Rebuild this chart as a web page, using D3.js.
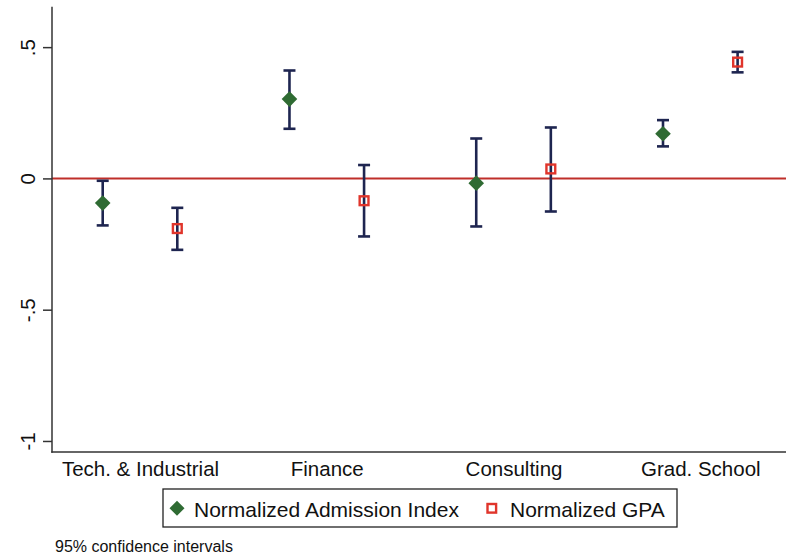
<!DOCTYPE html>
<html>
<head>
<meta charset="utf-8">
<script src="https://cdn.jsdelivr.net/npm/d3@7"></script>
<style>
  html, body { margin: 0; padding: 0; background: #fff; }
  svg { display: block; font-family: "Liberation Sans", Arial, sans-serif; }
</style>
</head>
<body>
<svg id="chart" width="790" height="555"></svg>
<script>
// ---- data ----
const categories = ["Tech. & Industrial", "Finance", "Consulting", "Grad. School"];
const seriesNames = ["Normalized Admission Index", "Normalized GPA"];
const admissionMean = [-0.094, 0.302, -0.018, 0.170];
const admissionLow  = [-0.179, 0.189, -0.183, 0.122];
const admissionHigh = [-0.009, 0.411, 0.152, 0.222];
const gpaMean = [-0.191, -0.085, 0.036, 0.443];
const gpaLow  = [-0.272, -0.221, -0.126, 0.404];
const gpaHigh = [-0.112, 0.051, 0.194, 0.482];
const yTicks = [-1, -0.5, 0, 0.5];
const yTickLabels = ["-1", "-.5", "0", ".5"];
const note = "95% confidence intervals";

// ---- layout ----
const svg = d3.select("#chart");
const plot = { left: 52, right: 786, top: 6.7, bottom: 452 };
const y = d3.scaleLinear().domain([-1.042, 0.654]).range([plot.bottom, plot.top]);
const x = d3.scalePoint().domain(categories).range([140, 700.3]);
const offset = 37.3;

const navy = "#1e2550", green = "#2f6b33", red = "#e0352b", zeroRed = "#bf2f2a", axisCol = "#333";

const rows = [];
categories.forEach((c, i) => {
  rows.push({ cat: c, s: 0, m: admissionMean[i], lo: admissionLow[i], hi: admissionHigh[i] });
  rows.push({ cat: c, s: 1, m: gpaMean[i], lo: gpaLow[i], hi: gpaHigh[i] });
});
const px = d => x(d.cat) + (d.s === 0 ? -offset : offset);

// zero line
svg.append("line")
  .attr("x1", plot.left).attr("x2", plot.right)
  .attr("y1", y(0)).attr("y2", y(0))
  .attr("stroke", zeroRed).attr("stroke-width", 2);

// y axis
const yAxis = d3.axisLeft(y).tickValues(yTicks).tickFormat((d, i) => yTickLabels[i]).tickSize(9);
const gy = svg.append("g").attr("transform", `translate(${plot.left},0)`).call(yAxis);
gy.select(".domain").remove();
gy.selectAll(".tick line").attr("stroke", axisCol).attr("stroke-width", 1.5);
gy.selectAll(".tick text")
  .attr("x", 0).attr("dy", null)
  .attr("transform", "translate(-17,0) rotate(-90)")
  .attr("text-anchor", "middle")
  .attr("font-size", 20.5).attr("fill", "#111");
svg.append("line")
  .attr("x1", plot.left).attr("x2", plot.left)
  .attr("y1", plot.top).attr("y2", plot.bottom + 0.75)
  .attr("stroke", axisCol).attr("stroke-width", 1.5);

// x axis
const xAxis = d3.axisBottom(x).tickSize(0).tickPadding(0);
const gx = svg.append("g").attr("transform", `translate(0,${plot.bottom})`).call(xAxis);
gx.select(".domain").remove();
gx.selectAll(".tick text").attr("y", 24).attr("dy", null)
  .attr("font-size", 20.5).attr("fill", "#111");
svg.append("line")
  .attr("x1", plot.left - 0.75).attr("x2", plot.right)
  .attr("y1", plot.bottom).attr("y2", plot.bottom)
  .attr("stroke", axisCol).attr("stroke-width", 1.5);

// error bars
const bars = svg.append("g").attr("stroke", navy).attr("stroke-width", 2.6).attr("fill", "none");
bars.selectAll("line.v").data(rows).join("line").attr("class", "v")
  .attr("x1", px).attr("x2", px).attr("y1", d => y(d.lo)).attr("y2", d => y(d.hi));
bars.selectAll("line.lo").data(rows).join("line").attr("class", "lo")
  .attr("x1", d => px(d) - 6).attr("x2", d => px(d) + 6).attr("y1", d => y(d.lo)).attr("y2", d => y(d.lo));
bars.selectAll("line.hi").data(rows).join("line").attr("class", "hi")
  .attr("x1", d => px(d) - 6).attr("x2", d => px(d) + 6).attr("y1", d => y(d.hi)).attr("y2", d => y(d.hi));

// markers
const diamond = (cx, cy, r) => `M${cx},${cy - r}L${cx + r},${cy}L${cx},${cy + r}L${cx - r},${cy}Z`;
svg.append("g").selectAll("path").data(rows.filter(d => d.s === 0)).join("path")
  .attr("d", d => diamond(px(d), y(d.m), 7.8)).attr("fill", green);
svg.append("g").selectAll("rect").data(rows.filter(d => d.s === 1)).join("rect")
  .attr("x", d => px(d) - 4.4).attr("y", d => y(d.m) - 4.4)
  .attr("width", 8.8).attr("height", 8.8)
  .attr("fill", "none").attr("stroke", red).attr("stroke-width", 2.4);

// legend
const lg = svg.append("g");
lg.append("rect").attr("x", 163).attr("y", 489).attr("width", 514).attr("height", 38)
  .attr("fill", "#fff").attr("stroke", "#222").attr("stroke-width", 1.3);
lg.append("path").attr("d", diamond(177, 508.3, 7.5)).attr("fill", green);
lg.append("text").attr("x", 194).attr("y", 516.5).attr("font-size", 21).attr("fill", "#111").text(seriesNames[0]);
lg.append("rect").attr("x", 487.5).attr("y", 504).attr("width", 8.6).attr("height", 8.6)
  .attr("fill", "#fff").attr("stroke", red).attr("stroke-width", 2.4);
lg.append("text").attr("x", 510).attr("y", 516.5).attr("font-size", 21).attr("fill", "#111").text(seriesNames[1]);

// note
svg.append("text").attr("x", 55).attr("y", 551.5).attr("font-size", 16).attr("fill", "#111").text(note);
</script>
</body>
</html>
